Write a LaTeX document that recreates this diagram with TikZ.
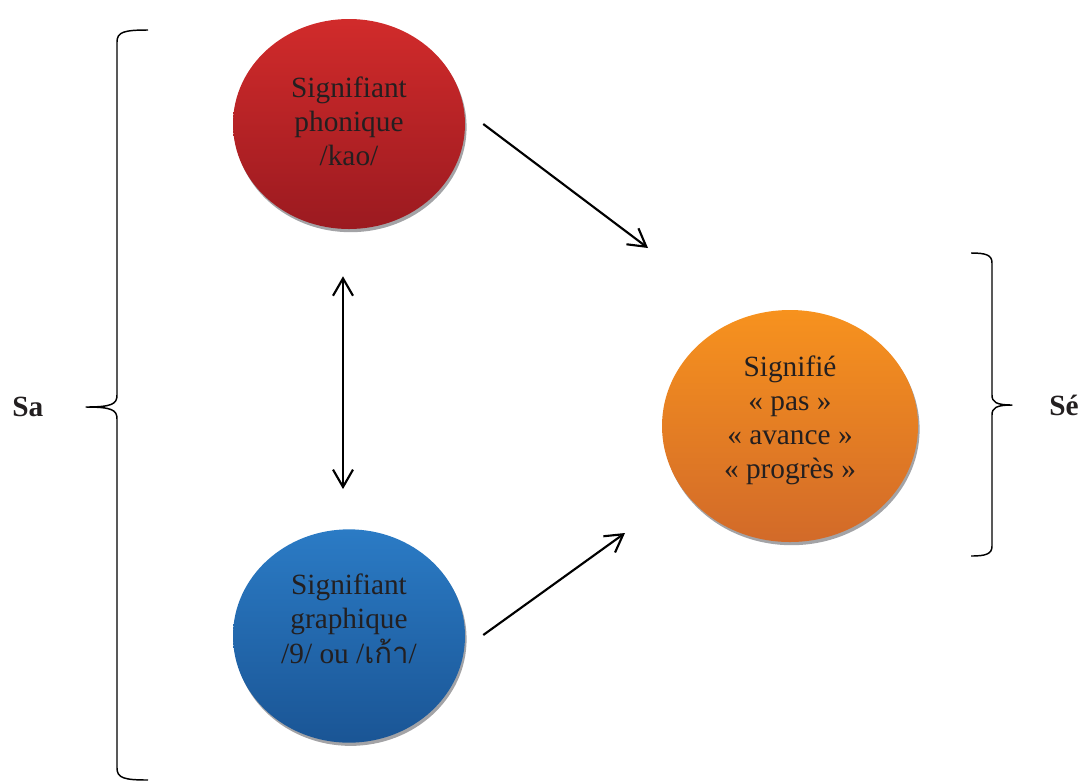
\documentclass[tikz,border=0pt]{standalone}
\usepackage{fontspec}
\setmainfont{Liberation Serif}
\newfontfamily\thaifont[Script=Thai]{Loma}
\usetikzlibrary{shapes.geometric,shadows,arrows.meta,calc}

\definecolor{rossoSu}{HTML}{D12B2B}
\definecolor{rossoGiu}{HTML}{9B1A20}
\definecolor{bluSu}{HTML}{2B7BC5}
\definecolor{bluGiu}{HTML}{1A5595}
\definecolor{aranSu}{HTML}{F7921E}
\definecolor{aranGiu}{HTML}{D26A29}
\definecolor{ombra}{HTML}{A3A3A6}
\definecolor{testo}{HTML}{231F20}

% testo su piu righe, alzato di #1 (ingombro invariato)
\newcommand{\righe}[2]{\raisebox{#1}[\dimexpr\height-#1\relax][\dimexpr\depth+#1\relax]{\begin{tabular}{@{}c@{}}#2\end{tabular}}}

\begin{document}
\begin{tikzpicture}[
        x=0.75pt, y=-0.75pt,
        cerchio/.style={
            ellipse,
            draw=none,
            inner sep=0pt,
            text=testo,
            font=\fontsize{22}{25.5}\selectfont,
            general shadow={fill=ombra, shadow xshift=1.2pt, shadow yshift=-2.4pt}
        },
        freccia/.style={
            line width=1.6pt,
            >={Straight Barb[length=13pt,width=15pt]}
        },
        graffa/.style={line width=1.1pt, line join=round},
        sigla/.style={font=\fontsize{22}{26}\selectfont\bfseries, text=testo, inner sep=0pt}
    ]
        \useasboundingbox (0,0) rectangle (1085,783);

        % Cerchi
        \node[cerchio, minimum width=174pt, minimum height=157.5pt,
              top color=rossoSu, bottom color=rossoGiu] (fonico) at (349,124)
              {\righe{-0.4pt}{Signifiant\\phonique\\/kao/}};
        \node[cerchio, minimum width=174pt, minimum height=160pt,
              top color=bluSu, bottom color=bluGiu] (grafico) at (349,636)
              {\righe{5.25pt}{Signifiant\\graphique\\/9/ ou /{\thaifont เก้า}/}};
        \node[cerchio, minimum width=192pt, minimum height=174pt,
              top color=aranSu, bottom color=aranGiu] (significato) at (790,426)
              {\righe{1.9pt}{Signifié\\« pas »\\« avance »\\« progrès »}};

        % Frecce
        \draw[freccia, ->] ($(fonico.east)+(18,0)$) -- ($(significato.center)+(-142,-178)$);
        \draw[freccia, ->] ($(grafico.east)+(18,-1)$) -- ($(significato.center)+(-165,107)$);
        \draw[freccia, <->] ($(fonico.south)+(-6,47)$) -- ($(grafico.north)+(-6,-40)$);

        % Graffe
        \draw[graffa] (148,30) .. controls (124,30) and (117,32) .. (117,42)
            -- (117,395) .. controls (117,404) and (112,407) .. (86,407)
            .. controls (112,407) and (117,410) .. (117,419)
            -- (117,768) .. controls (117,778) and (124,780) .. (148,780);
        \draw[graffa] (971,253) .. controls (986,253) and (992,255) .. (992,263)
            -- (992,395) .. controls (992,402) and (996,405) .. (1012,405)
            .. controls (996,405) and (992,408) .. (992,415)
            -- (992,546) .. controls (992,554) and (986,556) .. (971,556);

        % Etichette
        \node[sigla, anchor=west] (sa) at (12,407) {Sa};
        \node[sigla, anchor=west] (se) at (1049,405) {Sé};
    \end{tikzpicture}
\end{document}
